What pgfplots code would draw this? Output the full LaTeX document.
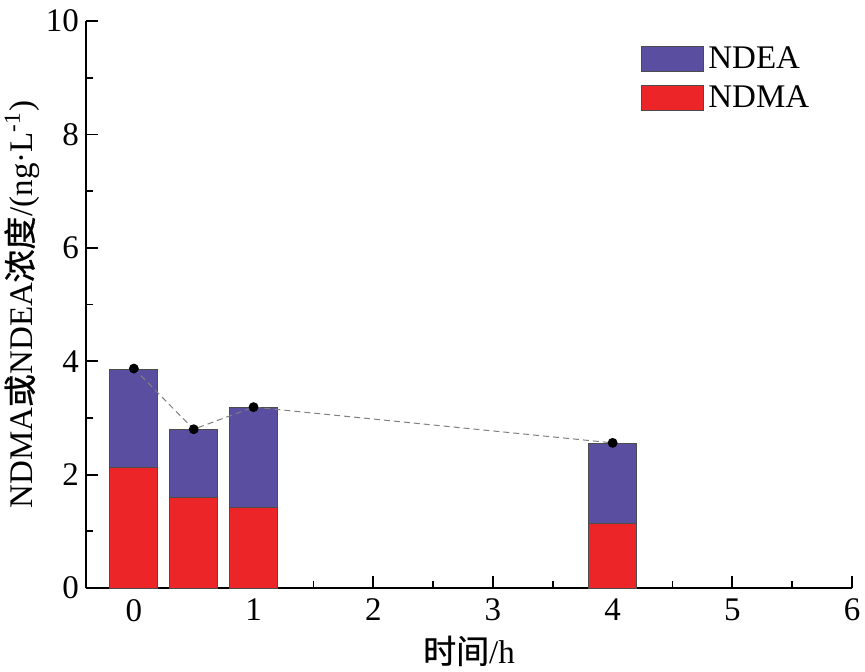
\documentclass[border=0pt]{standalone}
\usepackage{pgfplots}
\pgfplotsset{compat=1.18}
\usepackage{fontspec}
\setmainfont{Liberation Serif}
\newfontfamily\cjk[FakeBold=0.8]{Noto Sans CJK SC}
\definecolor{ndea}{RGB}{90,78,160}
\definecolor{ndma}{RGB}{236,38,40}
\begin{document}
\begin{tikzpicture}
\begin{axis}[
  scale only axis, width=383pt, height=283.5pt,
  xmin=-0.4, xmax=6, ymin=0, ymax=10,
  axis x line*=bottom, axis y line*=left,
  axis line style={line width=1pt,-},
  xtick={0,1,...,6}, minor xtick={0.5,1.5,...,5.5},
  ytick={0,2,...,10}, minor ytick={1,3,...,9},
  tick align=inside, major tick length=6pt, minor tick length=3.5pt,
  every tick/.style={line width=0.9pt, black},
  /pgf/number format/assume math mode=true,
  ticklabel style={font=\fontsize{16.5}{18}\selectfont},
  xticklabel style={yshift=-2pt},
  xlabel={{\cjk 时间}/h},
  ylabel={NDMA{\cjk 或}NDEA{\cjk 浓度}/(ng·L\textsuperscript{-1})},
  label style={font=\fontsize{16.5}{18}\selectfont},
  xlabel style={at={(axis description cs:0.5,-0.111)}, anchor=center},
  ylabel style={at={(axis description cs:-0.0836,0.5)}, anchor=center},
  legend style={at={(axis description cs:0.7245,0.962)}, anchor=north west,
    draw=none, fill=none, inner sep=0pt, row sep=3pt,
    font=\fontsize{16.5}{18}\selectfont},
  legend cell align=left,
  legend image code/.code={\draw[#1] (0pt,-6.25pt) rectangle (31pt,6.25pt);},
]
% NDEA drawn as the full stack height (total), NDMA drawn over it
\addplot[ybar, bar width=0.4, bar shift=0pt, fill=ndea, draw=black!70, line width=0.5pt]
  coordinates {(0,3.86) (0.5,2.79) (1,3.18) (4,2.54)};
\addlegendentry{NDEA}
\addplot[ybar, bar width=0.4, bar shift=0pt, fill=ndma, draw=black!70, line width=0.5pt]
  coordinates {(0,2.13) (0.5,1.59) (1,1.42) (4,1.14)};
\addlegendentry{NDMA}
\addplot[forget plot, gray, densely dashed, line width=0.5pt, mark=*, mark size=2.2pt,
  mark options={solid, fill=black, draw=black}]
  coordinates {(0,3.87) (0.5,2.80) (1,3.19) (4,2.56)};
\coordinate (bl) at (rel axis cs:0,0);
\coordinate (tr) at (rel axis cs:1,1);
\end{axis}
\pgfresetboundingbox
\path[use as bounding box] ([xshift=-43pt,yshift=-41.5pt]bl) rectangle ([xshift=6.5pt,yshift=10.5pt]tr);
\end{tikzpicture}
\end{document}
